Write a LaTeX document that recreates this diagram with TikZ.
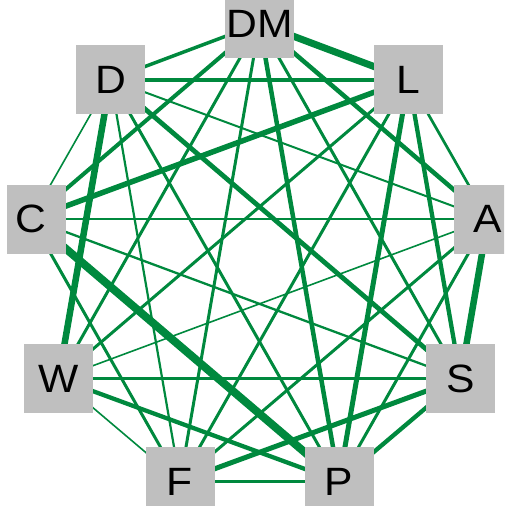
\documentclass[tikz,border=0pt]{standalone}
\usepackage{fontspec}
\newfontfamily\labelfont{Liberation Sans}[FakeStretch=1.08]
\usetikzlibrary{backgrounds}
\definecolor{edgegreen}{RGB}{0,137,62}
\definecolor{boxgray}{RGB}{191,191,191}
\tikzset{
  party/.style={fill=boxgray, draw=none, inner sep=0pt,
    minimum width=69pt, minimum height=69pt,
    font=\labelfont\fontsize{39.5}{41}\selectfont, text=black},
  link/.style={draw=edgegreen, line width=#1}
}
\begin{document}
\begin{tikzpicture}[x=1pt,y=-1pt]
  \useasboundingbox (0,0) rectangle (504,509);
  % the nine labelled boxes on a ring
  \begin{scope}
    \clip (7,0) rectangle (504,505);
    \node[party] (DM) at (259.5,23.5) {DM};
    \node[party] (L)  at (408.5,79.5) {L};
    \node[party] (A)  at (488,219)    {A};
    \node[party] (S)  at (460.5,378.5) {S};
    \node[party] (P)  at (339,481.5)  {P};
    \node[party] (F)  at (180,481.5)  {F};
    \node[party] (W)  at (58.5,378.5) {W};
    \node[party] (C)  at (31,219)     {C};
    \node[party] (D)  at (110.5,79.5) {D};
  \end{scope}
  % weighted links, drawn beneath the boxes
  \begin{pgfonlayer}{background}
    \foreach \a/\b/\w in {
      DM/L/7, DM/A/4.5, DM/S/3, DM/P/4.5, DM/F/3, DM/W/3, DM/C/4, DM/D/3.5,
      L/A/2.7, L/S/4.3, L/P/5, L/F/3, L/W/3, L/C/5.5, L/D/4,
      A/S/6.5, A/P/3, A/F/3, A/W/1.6, A/C/2.7, A/D/2,
      S/P/4.3, S/F/5, S/W/2.7, S/C/2.3, S/D/4.8,
      P/F/2.3, P/W/4.3, P/C/8, P/D/3,
      F/W/1.6, F/C/3, F/D/2.2,
      W/D/6.5,
      C/D/1.6}
      \draw[link=\w pt] (\a.center) -- (\b.center);
  \end{pgfonlayer}
\end{tikzpicture}
\end{document}
